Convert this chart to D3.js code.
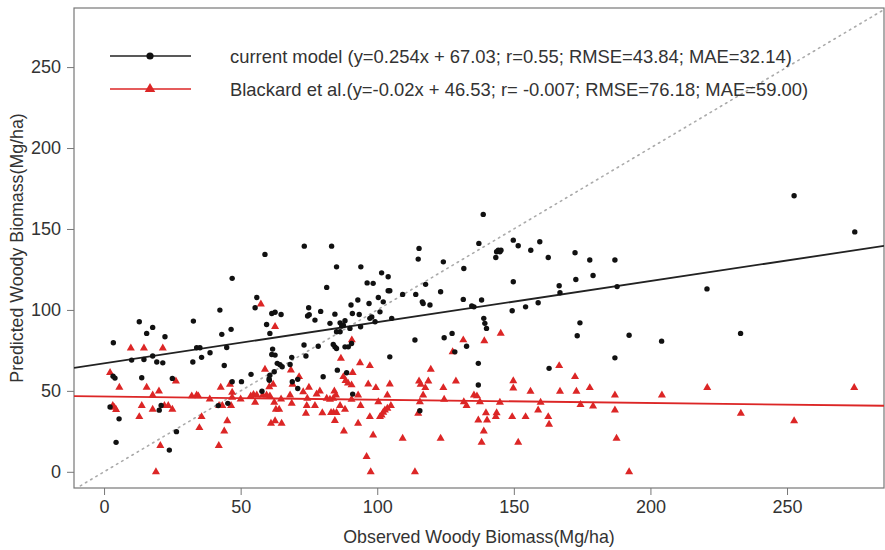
<!DOCTYPE html>
<html>
<head>
<meta charset="utf-8">
<script src="https://cdn.jsdelivr.net/npm/d3@7"></script>
<style>
  body { margin: 0; background: #fff; }
  svg { display: block; font-family: "Liberation Sans", Arial, sans-serif; }
</style>
</head>
<body>
<svg id="chart" width="885" height="550"></svg>
<script>
// Axis ticks
const xTicks = [0, 50, 100, 150, 200, 250];
const yTicks = [0, 50, 100, 150, 200, 250];

// Current model: observed vs predicted woody biomass (Mg/ha)
const currentObs = [42.4,12.9,17.8,15.6,22.3,32.7,43.1,3.4,33.9,35.1,38.8,44.9,35.7,10.1,14.6,17.8,19.3,21.5,32.5,44.0,
  3.3,4.0,13.8,25.0,2.2,20.9,20.2,5.5,41.8,26.5,4.4,23.9,45.3,46.9,50.3,57.8,60.5,68.9,70.9,73.3,
  83.3,58.9,85.1,46.9,81.5,55.9,55.3,74.9,79.3,61.4,62.6,64.8,74.5,75.1,77.2,84.5,59.5,46.5,60.7,73.2,
  78.4,83.9,84.5,85.1,61.7,61.4,62.6,68.7,73.9,63.4,64.4,65.2,68.1,62.3,60.7,60.4,53.8,70.9,80.2,85.4,
  115.3,115.0,137.2,94.0,124.2,131.7,101.6,104.0,96.3,98.5,117.7,104.0,104.6,109.3,114.1,123.2,100.4,102.2,92.9,90.4,
  97.0,116.5,116.8,119.3,131.5,135.4,90.9,93.4,101.0,88.2,97.3,98.0,99.2,105.3,82.7,86.4,87.0,87.6,90.0,93.9,
  86.4,85.1,88.2,89.4,90.6,113.8,124.5,127.4,128.4,132.7,104.6,88.8,137.0,137.0,91.0,115.6,138.8,149.8,151.6,159.5,
  156.2,143.7,144.3,144.9,145.3,143.4,162.6,172.4,177.8,187.0,149.8,172.7,179.0,166.6,166.9,187.8,138.2,134.6,149.4,154.3,
  158.9,139.0,139.4,140.0,174.2,173.2,162.9,187.0,192.2,204.1,220.7,233.0,252.6,274.8];
const currentPred = [99.9,92.7,89.2,85.5,83.4,93.1,84.9,79.7,76.6,76.6,73.5,76.8,70.7,69.0,69.4,71.5,67.8,67.3,67.8,65.7,
  59.1,57.9,58.1,57.7,40.0,41.0,38.1,32.7,40.9,24.8,18.2,13.4,42.3,55.6,55.7,49.8,56.6,55.6,51.5,139.4,
  139.4,134.3,126.6,119.5,113.9,107.7,101.3,101.3,99.1,97.8,98.6,97.2,96.2,97.0,93.7,97.4,91.0,88.0,85.5,78.3,
  77.6,78.7,77.2,76.2,75.8,72.5,72.1,70.7,71.5,67.0,66.1,64.9,66.3,61.8,59.7,57.3,60.2,57.1,58.7,62.8,
  138.0,131.4,141.1,126.6,129.7,125.6,122.9,120.5,116.7,116.4,115.8,111.8,111.8,109.6,109.6,111.2,107.7,105.0,106.1,103.0,
  104.0,105.0,104.0,103.0,106.5,101.9,97.8,97.2,98.8,93.3,94.8,95.7,92.7,94.8,91.7,92.0,90.0,90.6,88.6,89.6,
  86.5,86.5,77.2,77.2,79.3,81.4,82.8,85.5,74.1,77.6,71.0,61.2,67.0,53.6,48.0,37.7,159.0,143.1,139.6,142.1,
  136.9,135.9,136.9,135.9,136.9,132.4,132.4,135.3,130.8,130.8,117.4,118.8,121.3,114.9,110.6,114.4,106.1,102.4,99.5,101.9,
  104.4,94.8,91.7,88.6,92.0,84.0,63.9,70.4,84.4,80.7,113.0,85.5,170.5,148.2];

// Blackard et al.: observed vs predicted woody biomass (Mg/ha)
const blackardObs = [5.6,15.6,26.3,17.8,20.1,3.2,3.8,4.4,13.8,12.9,17.8,22.1,23.5,25.0,20.6,19.0,32.1,33.9,34.5,38.7,
  35.7,34.9,42.0,44.0,45.1,42.7,46.5,46.1,46.9,46.9,50.0,53.7,54.7,55.9,58.1,59.5,60.7,55.3,60.5,61.9,
  62.3,62.9,64.1,61.1,62.6,65.0,64.8,68.1,69.0,9.8,14.6,21.5,2.2,57.4,62.6,58.9,68.4,71.4,75.0,79.0,
  84.3,72.9,74.4,77.8,81.5,83.9,42.1,43.3,68.7,74.2,77.2,79.9,83.1,84.0,85.1,73.9,84.5,90.7,131.5,127.6,
  86.7,93.7,97.3,119.6,91.0,87.6,88.4,89.3,90.6,96.7,99.5,104.6,115.3,115.9,118.7,128.8,117.6,124.2,84.9,93.0,
  103.7,116.8,135.4,136.5,82.7,90.6,100.4,115.6,124.5,131.7,132.7,86.4,93.9,105.0,102.8,103.7,102.2,101.6,101.0,88.2,
  97.3,115.0,93.0,137.0,87.8,98.5,109.3,123.2,96.1,97.6,113.8,145.2,139.2,166.6,172.4,149.8,149.8,156.1,166.9,172.9,
  177.8,187.0,137.6,144.9,159.8,174.4,179.0,158.9,187.0,139.8,143.7,143.4,140.2,149.4,154.3,162.6,162.9,139.0,138.2,151.6,
  187.6,192.2,204.2,220.8,233.1,252.6,274.6];
const blackardPred = [52.1,52.1,56.0,47.4,49.8,40.8,39.7,38.4,40.8,34.0,38.5,40.8,40.8,38.5,16.1,0,46.8,47.4,46.8,44.9,
  34.0,27.2,16.1,25.1,31.5,52.1,40.8,54.0,49.0,46.0,44.9,46.8,47.7,47.4,47.4,47.4,46.8,42.9,52.5,54.0,
  42.9,38.5,38.5,29.9,31.5,29.9,44.9,47.4,54.0,76.4,76.4,76.4,61.2,103.6,89.6,63.3,62.8,58.7,52.1,49.8,
  49.8,49.4,45.3,48.0,45.3,45.3,40.8,40.8,42.3,40.8,40.8,36.4,36.6,36.6,36.6,36.1,31.6,81.4,81.4,74.1,
  70.0,67.3,65.5,63.3,61.2,58.7,56.3,54.8,53.6,54.2,51.9,54.2,56.0,54.0,56.0,56.0,51.9,51.9,47.4,47.4,
  47.4,47.4,47.4,46.8,44.7,44.7,43.2,43.2,44.7,43.2,40.8,40.8,40.8,40.8,38.1,39.2,36.7,35.0,34.0,38.5,
  34.0,36.1,29.9,31.9,25.1,22.7,20.6,20.6,9.3,0,0,85.5,80.9,65.5,58.7,56.2,51.7,49.7,49.7,49.7,
  51.9,47.4,43.2,42.9,42.9,41.5,40.6,38.1,38.1,36.4,36.4,34.0,31.9,34.0,34.0,34.0,29.3,25.1,18.2,18.2,
  20.6,0,47.4,52.0,36.1,31.5,52.0];

// Fitted lines [slope, intercept]
const currentFit = [0.254, 67.03];
const blackardFit = [-0.02, 46.53];

const legendLabels = [
  "current model (y=0.254x + 67.03; r=0.55; RMSE=43.84; MAE=32.14)",
  "Blackard et al.(y=-0.02x + 46.53; r= -0.007; RMSE=76.18; MAE=59.00)"
];
const xTitle = "Observed Woody Biomass(Mg/ha)";
const yTitle = "Predicted Woody Biomass(Mg/ha)";

const RED = "#dc2626";
const BLACK = "#111";
const FRAME = "#777";
const TEXT = "#333";

const svg = d3.select("#chart");
const plot = { left: 74, right: 884, top: 8, bottom: 488 };

const x = d3.scaleLinear().domain([-11, 285.5]).range([plot.left, plot.right]);
const y = d3.scaleLinear().domain([-10, 286.5]).range([plot.bottom, plot.top]);

svg.append("defs").append("clipPath").attr("id", "plotClip")
  .append("rect")
  .attr("x", plot.left).attr("y", plot.top)
  .attr("width", plot.right - plot.left).attr("height", plot.bottom - plot.top);

// Axes
const xAxis = d3.axisBottom(x).tickValues(xTicks).tickSize(7).tickPadding(5).tickSizeOuter(0);
const yAxis = d3.axisLeft(y).tickValues(yTicks).tickSize(7).tickPadding(6).tickSizeOuter(0);

const gx = svg.append("g").attr("transform", `translate(0,${plot.bottom})`).call(xAxis);
const gy = svg.append("g").attr("transform", `translate(${plot.left},0)`).call(yAxis);
[gx, gy].forEach(g => {
  g.select(".domain").remove();
  g.selectAll(".tick line").attr("stroke", FRAME).attr("stroke-width", 1);
  g.selectAll(".tick text").attr("fill", TEXT).attr("font-size", 18)
    .attr("font-family", '"Liberation Sans", Arial, sans-serif');
});

// Frame
svg.append("rect")
  .attr("x", plot.left).attr("y", plot.top)
  .attr("width", plot.right - plot.left).attr("height", plot.bottom - plot.top)
  .attr("fill", "none").attr("stroke", FRAME).attr("stroke-width", 1.2);

const inner = svg.append("g").attr("clip-path", "url(#plotClip)");

// 1:1 reference line
inner.append("line")
  .attr("x1", x(-20)).attr("y1", y(-20))
  .attr("x2", x(300)).attr("y2", y(300))
  .attr("stroke", "#aaa").attr("stroke-width", 1.6)
  .attr("stroke-dasharray", "1.5,4.5").attr("stroke-linecap", "round");

// Fitted lines across the full panel
const xd = x.domain();
[[currentFit, "#222"], [blackardFit, RED]].forEach(([f, c]) => {
  inner.append("line")
    .attr("x1", x(xd[0])).attr("y1", y(f[0] * xd[0] + f[1]))
    .attr("x2", x(xd[1])).attr("y2", y(f[0] * xd[1] + f[1]))
    .attr("stroke", c).attr("stroke-width", 1.8);
});

// Points
const tri = d3.symbol().type(d3.symbolTriangle).size(28);
inner.append("g").selectAll("path")
  .data(blackardObs.map((v, i) => [v, blackardPred[i]]))
  .join("path")
  .attr("d", tri)
  .attr("transform", d => `translate(${x(d[0])},${y(d[1])})`)
  .attr("fill", RED);

inner.append("g").selectAll("circle")
  .data(currentObs.map((v, i) => [v, currentPred[i]]))
  .join("circle")
  .attr("cx", d => x(d[0])).attr("cy", d => y(d[1]))
  .attr("r", 2.7).attr("fill", BLACK);

// Legend
const legend = svg.append("g");
const legendRows = [
  { label: legendLabels[0], color: "#222", mark: "circle", y: 56 },
  { label: legendLabels[1], color: RED, mark: "triangle", y: 89 }
];
legendRows.forEach(r => {
  legend.append("line").attr("x1", 110).attr("x2", 191).attr("y1", r.y).attr("y2", r.y)
    .attr("stroke", r.color).attr("stroke-width", 1.3);
  if (r.mark === "circle") {
    legend.append("circle").attr("cx", 150).attr("cy", r.y).attr("r", 3.6).attr("fill", BLACK);
  } else {
    legend.append("path").attr("d", d3.symbol().type(d3.symbolTriangle).size(48))
      .attr("transform", `translate(150,${r.y})`).attr("fill", RED);
  }
  legend.append("text").attr("x", 230).attr("y", r.y + 7)
    .attr("font-size", 18.4).attr("fill", TEXT).text(r.label);
});

// Axis titles
svg.append("text").attr("x", (plot.left + plot.right) / 2).attr("y", 543)
  .attr("text-anchor", "middle").attr("font-size", 17.8).attr("fill", TEXT).text(xTitle);
svg.append("text")
  .attr("transform", `translate(23,${(plot.top + plot.bottom) / 2}) rotate(-90)`)
  .attr("text-anchor", "middle").attr("font-size", 17.8).attr("fill", TEXT).text(yTitle);
</script>
</body>
</html>
